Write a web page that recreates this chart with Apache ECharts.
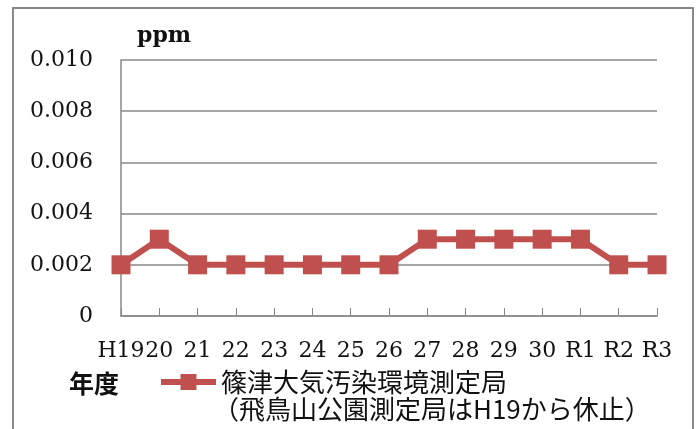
<!DOCTYPE html>
<html><head><meta charset="utf-8">
<script src="https://cdn.jsdelivr.net/npm/echarts@6/dist/echarts.min.js"></script>
<style>html,body{margin:0;padding:0;background:#fff}#c{width:697px;height:429px}</style>
</head><body><div id="c"></div>
<script>
var categories = ['H19','20','21','22','23','24','25','26','27','28','29','30','R1','R2','R3'];
var shinotsu = [0.002,0.003,0.002,0.002,0.002,0.002,0.002,0.002,0.003,0.003,0.003,0.003,0.003,0.002,0.002];
var seriesName = '篠津大気汚染環境測定局';
var noteText = '（飛鳥山公園測定局はH19から休止）';
var yTicks = [0, 0.002, 0.004, 0.006, 0.008, 0.010];

var chart = echarts.init(document.getElementById('c'), null, {renderer:'canvas'});
var serif = 'DejaVu Serif';
var cjk = 'Noto Sans CJK JP';
chart.setOption({
  animation: false,
  backgroundColor: '#fff',
  grid: {left: 121, top: 60, right: 40, bottom: 113},
  legend: {
    left: 153, top: 364,
    itemWidth: 55, itemHeight: 20,
    data: [seriesName],
    lineStyle: {width: 6},
    textStyle: {fontFamily: cjk, fontSize: 26, color: '#111'}
  },
  xAxis: {
    type: 'category', data: categories, boundaryGap: false,
    axisLine: {lineStyle: {color: '#888', width: 1.5}},
    axisTick: {show: true, inside: true, length: 8, alignWithLabel: true, lineStyle: {color: '#888'}},
    axisLabel: {fontFamily: serif, fontSize: 22, color: '#111', margin: 24, interval: 0}
  },
  yAxis: {
    type: 'value', min: 0, max: 0.010, interval: 0.002,
    axisLine: {show: true, lineStyle: {color: '#888', width: 1.5}},
    axisTick: {show: false},
    splitLine: {lineStyle: {color: '#888', width: 1.5}},
    axisLabel: {
      fontFamily: serif, fontSize: 22, color: '#111', margin: 28,
      formatter: function (v) { return v === 0 ? '0' : v.toFixed(3); }
    }
  },
  graphic: [
    {type: 'rect', shape: {x: 13, y: 8, width: 680, height: 450}, style: {fill: 'none', stroke: '#888', lineWidth: 2}, z: 100},
    {type: 'text', left: 137, top: 25, style: {text: 'ppm', font: 'bold 22px "DejaVu Serif"', fill: '#111'}},
    {type: 'text', left: 69, top: 371, style: {text: '年度', font: 'bold 25px "Noto Sans CJK JP"', fill: '#111'}},
    {type: 'text', left: 213, top: 396, style: {text: noteText, font: '26px "Noto Sans CJK JP"', fill: '#111'}}
  ],
  series: [{
    name: seriesName, type: 'line', data: shinotsu,
    symbol: 'rect', symbolSize: 19, showSymbol: true,
    lineStyle: {color: '#C0504D', width: 6},
    itemStyle: {color: '#C0504D'},
    z: 5
  }]
});
</script></body></html>
